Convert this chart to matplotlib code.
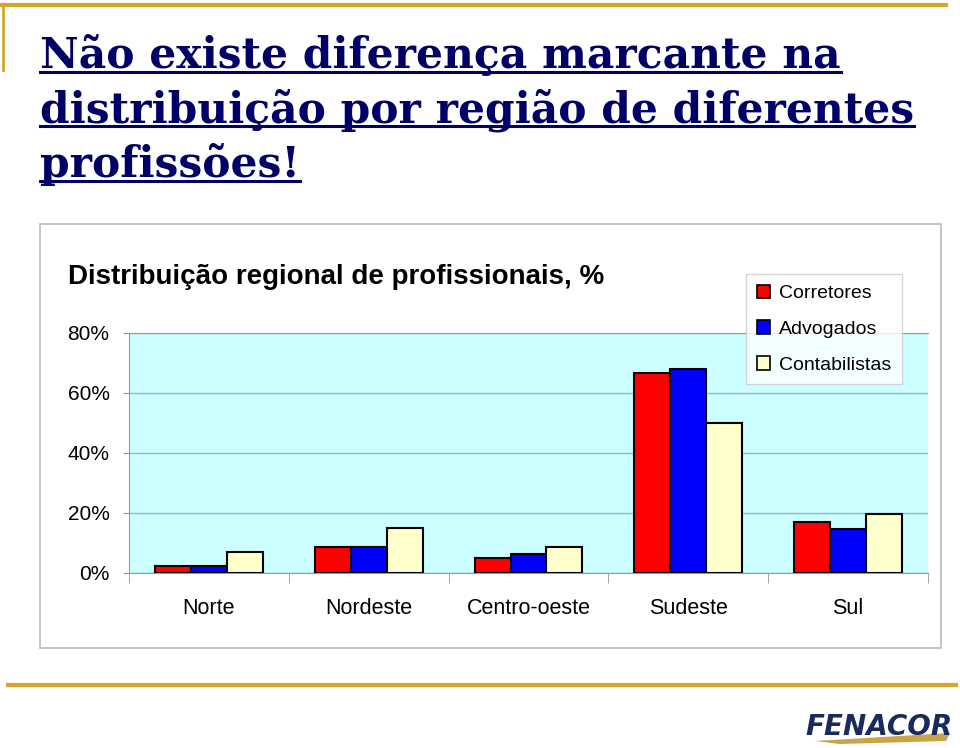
import matplotlib
matplotlib.use("Agg")
import matplotlib.pyplot as plt
import numpy as np
from matplotlib.patches import Rectangle, Polygon
from matplotlib.lines import Line2D

regions = ["Norte", "Nordeste", "Centro-oeste", "Sudeste", "Sul"]
corretores = [2.5, 8.8, 5.1, 66.8, 17.0]
advogados = [2.5, 8.8, 6.5, 68.0, 14.6]
contabilistas = [6.9, 15.1, 8.8, 49.9, 19.6]
series_names = ["Corretores", "Advogados", "Contabilistas"]
yticks = [0, 20, 40, 60, 80]
ytick_labels = ["0%", "20%", "40%", "60%", "80%"]
title_lines = ["Não existe diferença marcante na",
               "distribuição por região de diferentes",
               "profissões!"]
chart_title = "Distribuição regional de profissionais, %"

W, H = 960, 748
fig = plt.figure(figsize=(9.6, 7.48), dpi=100)
fig.patch.set_facecolor("white")

def fx(px):
    return px / W

def fy(py):
    return 1 - py / H

gold = "#D4A62A"
navy = "#000066"

# decorative gold lines
fig.add_artist(Line2D([fx(0), fx(946)], [fy(5), fy(5)], color=gold, lw=3))
fig.add_artist(Line2D([fx(3), fx(3)], [fy(5), fy(70)], color=gold, lw=2))
fig.add_artist(Line2D([fx(8), fx(956)], [fy(685), fy(685)], color=gold, lw=3))

# title
baselines = [68, 122, 177]
title_texts = []
for line, b in zip(title_lines, baselines):
    t = fig.text(fx(40), fy(b), line, family="DejaVu Serif", weight="bold",
                 fontsize=30.5, color=navy, va="baseline", ha="left")
    title_texts.append(t)

# chart frame
fig.add_artist(Rectangle((fx(40), fy(648)), fx(941 - 40), (648 - 224) / H,
                         transform=fig.transFigure, fill=False,
                         edgecolor="#BBBBBB", lw=1.2))

fig.text(fx(68), fy(284), chart_title, family="Liberation Sans", weight="bold",
         fontsize=20, color="black", va="baseline", ha="left")

# axes
ax = fig.add_axes([fx(129), fy(573), fx(928 - 129), (573 - 333) / H])
ax.set_facecolor("#CCFFFF")
x = np.arange(len(regions))
bw = 0.225
colors = ["#FF0000", "#0000FF", "#FFFFCC"]
for i, (vals, c, name) in enumerate(zip([corretores, advogados, contabilistas], colors, series_names)):
    ax.bar(x + (i - 1) * bw, vals, width=bw, color=c, edgecolor="black", lw=1.5,
           label=name, zorder=3)
ax.set_xlim(-0.5, len(regions) - 0.5)
ax.set_ylim(0, 80)
ax.set_yticks(yticks)
ax.set_yticklabels(ytick_labels, family="Liberation Sans", fontsize=15)
ax.yaxis.grid(True, color="#9FB5B5", lw=1, zorder=0)
ax.set_xticks(x)
ax.set_xticklabels(regions, family="Liberation Sans", fontsize=15.5)
ax.tick_params(axis="x", length=0, pad=18)
ax.set_xticks(np.arange(-0.5, len(regions)), minor=True)
ax.tick_params(axis="x", which="minor", length=7, color="#999999")
ax.tick_params(axis="y", length=4, color="#999999", pad=10)
for s in ["left", "bottom", "top", "right"]:
    ax.spines[s].set_color("#999999")
ax.spines["right"].set_visible(False)

leg = ax.legend(loc="upper left", bbox_to_anchor=(fx(746), fy(274)),
                bbox_transform=fig.transFigure, frameon=True, fancybox=False,
                prop={"family": "Liberation Sans", "size": 14},
                handlelength=0.7, handleheight=0.7, handletextpad=0.45,
                labelspacing=0.93, borderpad=0.55, borderaxespad=0)
leg.get_frame().set_edgecolor("#CCCCCC")
leg.get_frame().set_linewidth(1)
leg.set_zorder(5)
for h in leg.legend_handles:
    h.set_linewidth(1.2)

# logo
fig.text(fx(805), fy(735), "FENACOR", family="DejaVu Sans", weight="bold",
         style="italic", fontsize=20, color="#1A2A5A", va="baseline", ha="left")
fig.add_artist(Polygon([[fx(815), fy(741)], [fx(950), fy(733)], [fx(946), fy(741)], [fx(840), fy(744)]],
                       closed=True, transform=fig.transFigure, facecolor="#C9A44A", edgecolor="none"))

# underlines
fig.canvas.draw()
r = fig.canvas.get_renderer()
for t, b in zip(title_texts, baselines):
    bb = t.get_window_extent(r)
    fig.add_artist(Line2D([bb.x0 / W, bb.x1 / W], [fy(b + 4), fy(b + 4)], color=navy, lw=2.2))

fig.savefig("out.png", dpi=100)
